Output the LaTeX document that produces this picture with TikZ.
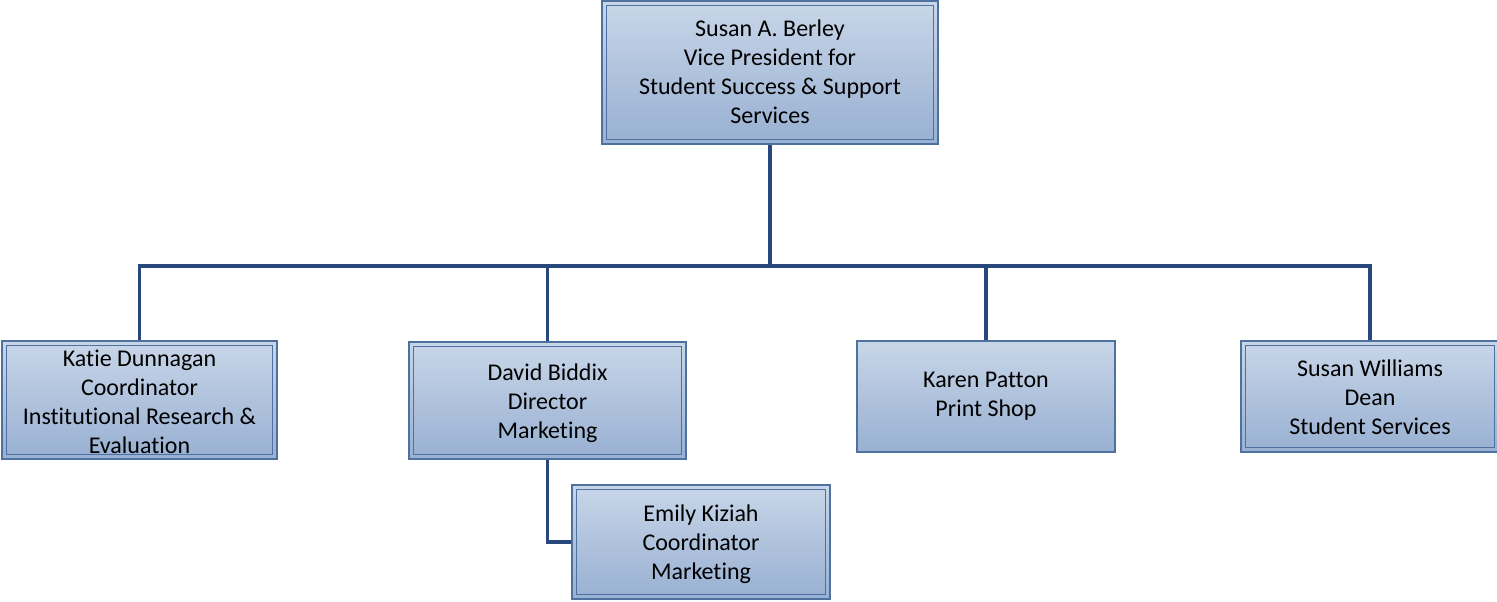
\documentclass[tikz,border=0pt]{standalone}
\usepackage{fontspec}
\setmainfont{Carlito}[Ligatures={NoCommon,NoContextual}, RawFeature={-liga;-clig;-calt;-dlig}]
\definecolor{linecol}{RGB}{38,72,125}
\definecolor{bordercol}{RGB}{79,113,160}
\definecolor{topcol}{RGB}{200,214,232}
\definecolor{botcol}{RGB}{152,176,210}
\newsavebox{\boxtextbin}
\newcommand{\boxtext}[2]{\sbox{\boxtextbin}{\begin{tabular}{@{}c@{}}#2\end{tabular}}%
  \raisebox{#1}[\ht\boxtextbin][\dp\boxtextbin]{\usebox{\boxtextbin}}}
\tikzset{
  box/.style={rectangle, draw=bordercol, line width=1.2pt, top color=topcol, bottom color=botcol,
    inner sep=0pt, align=center, font=\fontsize{18pt}{21.75pt}\selectfont, text=black},
  dbox/.style={box, path picture={\draw[bordercol, line width=1.1pt]
    ([shift={(3.5pt,-3.5pt)}]path picture bounding box.north west) rectangle
    ([shift={(-3.5pt,3.5pt)}]path picture bounding box.south east);}},
  conn/.style={draw=linecol, line width=2.5pt}
}
\begin{document}
\begin{tikzpicture}[x=0.75pt,y=-0.75pt]
\useasboundingbox (0,0) rectangle (1497,601);
\node[dbox, minimum width=336*0.75pt, minimum height=143*0.75pt] (vp) at (770,72.5)
  {\boxtext{-1.5pt}{Susan A. Berley\\Vice President for\\Student Success \& Support\\Services}};
\node[dbox, minimum width=275*0.75pt, minimum height=118*0.75pt] (katie) at (139.5,400)
  {\boxtext{-3pt}{Katie Dunnagan\\Coordinator\\Institutional Research \&\\Evaluation}};
\node[dbox, minimum width=277*0.75pt, minimum height=117*0.75pt] (david) at (547.5,400.5)
  {\boxtext{-2.25pt}{David Biddix\\Director\\Marketing}};
\node[dbox, minimum width=258*0.75pt, minimum height=114*0.75pt] (emily) at (701,542)
  {\boxtext{-2.25pt}{Emily Kiziah\\Coordinator\\Marketing}};
\node[box, minimum width=258*0.75pt, minimum height=111*0.75pt] (karen) at (986,396.5)
  {\boxtext{0pt}{Karen Patton\\Print Shop}};
\node[dbox, minimum width=258*0.75pt, minimum height=111*0.75pt] (williams) at (1370,396.5)
  {\boxtext{-2.25pt}{Susan Williams\\Dean\\Student Services}};
\coordinate (bus) at (770,266);
\draw[conn] (vp.south) -- (bus);
\draw[conn] (katie.north) |- (bus) -| (williams.north);
\draw[conn] (david.north) -- (david.north |- bus);
\draw[conn] (karen.north) -- (karen.north |- bus);
\draw[conn] (david.south) |- (emily.west);
\end{tikzpicture}
\end{document}
